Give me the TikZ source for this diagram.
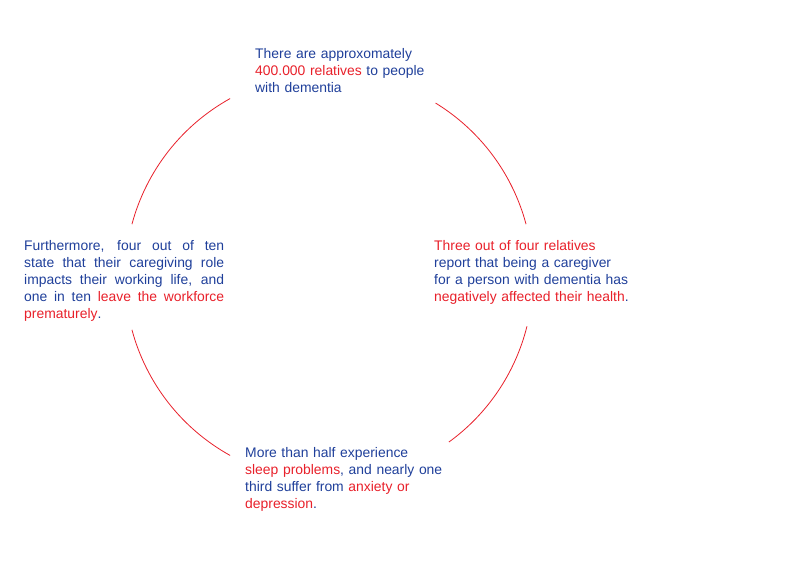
\documentclass[tikz,border=0pt]{standalone}
\usepackage{fontspec}
\setmainfont{Liberation Sans}
\definecolor{tblue}{HTML}{1F3F9A}
\definecolor{tred}{HTML}{E8202A}
\begin{document}
\begin{tikzpicture}[x=1pt,y=-1pt,
  txt/.style={anchor=north west,inner sep=0pt,font=\fontsize{13.9}{17}\selectfont,text=tblue,align=left},
  arc/.style={draw=tred,line width=0.8pt}]
\useasboundingbox (0,0) rectangle (804,568);
\coordinate (c) at (329,277);
\draw[arc] ([shift={(-165:204)}]c) arc[start angle=-165,end angle=-119,radius=204];
\draw[arc] ([shift={(-58.5:204)}]c) arc[start angle=-58.5,end angle=-15,radius=204];
\draw[arc] ([shift={(14:204)}]c) arc[start angle=14,end angle=54,radius=204];
\draw[arc] ([shift={(119:204)}]c) arc[start angle=119,end angle=165,radius=204];
\node[txt,text width=200] (t) at (255,48) {There are approxomately\\\textcolor{tred}{400.000 relatives} to people\\with dementia};
\node[txt,text width=230] (r) at (434,240) {\textcolor{tred}{Three out of four relatives}\\report that being a caregiver\\for a person with dementia has\\\textcolor{tred}{negatively affected their health}.};
\node[txt,text width=220] (b) at (245,447) {More than half experience\\\textcolor{tred}{sleep problems}, and nearly one\\third suffer from \textcolor{tred}{anxiety or}\\\textcolor{tred}{depression}.};
\node[txt,text width=200,align=justify] (l) at (24,240) {Furthermore, four out of ten\linebreak state that their caregiving role\linebreak impacts their working life, and\linebreak one in ten \textcolor{tred}{leave the workforce}\linebreak \textcolor{tred}{prematurely}.};
\end{tikzpicture}
\end{document}
